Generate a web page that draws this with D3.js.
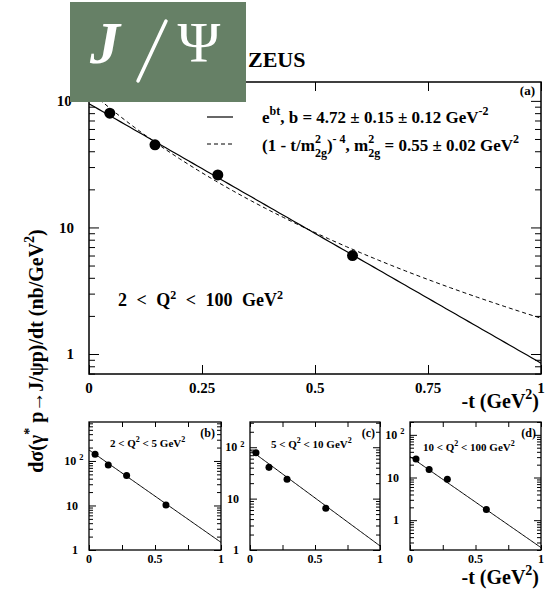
<!DOCTYPE html>
<html>
<head>
<meta charset="utf-8">
<script src="https://cdn.jsdelivr.net/npm/d3@7"></script>
<style>
body { margin: 0; background: #fff; }
svg { display: block; }
</style>
</head>
<body>
<svg id="chart"></svg>
<script>
// -t bin centres (GeV^2), shared by all panels
const tBins = [0.046, 0.146, 0.285, 0.583]

// (a) 2 < Q^2 < 100
const sigmaAll = [80, 45, 26, 6.0]
const errAll = [3, 2, 1.2, 0.3]
// (b) 2 < Q^2 < 5
const sigmaB = [141, 81, 47, 10.3]
const errB = [12, 10, 3, 0.8]
// (c) 5 < Q^2 < 10
const sigmaC = [78.5, 40.8, 23.8, 6.5]
const errC = [8, 6, 1.5, 0.6]
// (d) 10 < Q^2 < 100
const sigmaD = [27.2, 15.5, 9.1, 1.78]
const errD = [2.5, 2.5, 0.8, 0.2]

// fit parameters
const expFitAll = { norm: 95, b: 4.72 }
const dipoleFitAll = { norm: 121, m2: 0.55 }
const expNormBins = [177, 88.6, 30.9]
const expSlopeBins = [4.78, 4.3, 4.91]

const xTicksMain = [0, 0.25, 0.5, 0.75, 1]
const xLabelsMain = ["0", "0.25", "0.5", "0.75", "1"]
const xTicksSmall = [0, 0.25, 0.5, 0.75, 1]
const xLabelsSmall = ["0", "", "0.5", "", "1"]

const font = "'Liberation Serif', 'Times New Roman', serif"

const svg = d3.select("#chart")
	.attr("width", 546)
	.attr("height", 592)

let clipId = 0

// one framed panel with log y axis, ticks on all four sides
const drawPanel = (p) => {
	const x = d3.scaleLinear().domain([0, 1]).range([p.left, p.right])
	const y = d3.scaleLog().domain(p.yDomain).range([p.bottom, p.top])
	const g = svg.append("g")

	const [lo, hi] = p.yDomain
	const major = [], minor = []
	for (let e = Math.floor(Math.log10(lo)); e <= Math.ceil(Math.log10(hi)); e++) {
		for (let k = 1; k < 10; k++) {
			const v = k * Math.pow(10, e)
			if (v >= lo * 0.999 && v <= hi * 1.001) (k === 1 ? major : minor).push(v)
		}
	}

	const noDomain = (a) => a.select(".domain").remove()
	const tickStyle = (a) => a.selectAll("line").attr("stroke", "#000").attr("stroke-width", 1)

	g.append("g").attr("transform", `translate(${p.left},0)`)
		.call(d3.axisLeft(y).tickValues(major).tickSize(-p.majorLen).tickFormat(""))
		.call(noDomain).call(tickStyle)
	g.append("g").attr("transform", `translate(${p.left},0)`)
		.call(d3.axisLeft(y).tickValues(minor).tickSize(-p.minorLen).tickFormat(""))
		.call(noDomain).call(tickStyle)
	g.append("g").attr("transform", `translate(${p.right},0)`)
		.call(d3.axisRight(y).tickValues(major).tickSize(-p.majorLen).tickFormat(""))
		.call(noDomain).call(tickStyle)
	g.append("g").attr("transform", `translate(${p.right},0)`)
		.call(d3.axisRight(y).tickValues(minor).tickSize(-p.minorLen).tickFormat(""))
		.call(noDomain).call(tickStyle)
	g.append("g").attr("transform", `translate(0,${p.bottom})`)
		.call(d3.axisBottom(x).tickValues(p.xTicks).tickSize(-p.xTickLen).tickFormat(""))
		.call(noDomain).call(tickStyle)
	g.append("g").attr("transform", `translate(0,${p.top})`)
		.call(d3.axisTop(x).tickValues(p.xTicks).tickSize(-p.xTickLen).tickFormat(""))
		.call(noDomain).call(tickStyle)

	// frame
	g.append("rect")
		.attr("x", p.left).attr("y", p.top)
		.attr("width", p.right - p.left).attr("height", p.bottom - p.top)
		.style("fill", "none")
		.style("stroke", "#000")
		.style("stroke-width", p.frameWidth)

	// y labels (decades)
	major.forEach((v) => {
		const e = Math.round(Math.log10(v))
		const t = g.append("text")
			.attr("x", p.left - p.yLabelPad)
			.attr("y", y(v) + p.tickFont * 0.35)
			.attr("text-anchor", "end")
			.style("font-family", font)
			.style("font-weight", "bold")
			.style("font-size", p.tickFont + "px")
		if (e === 0) t.text("1")
		else if (e === 1) t.text("10")
		else {
			t.attr("x", p.left - p.yLabelPad + p.tickFont * 0.45)
			t.append("tspan").text("10 ")
			t.append("tspan").attr("dy", -p.tickFont * 0.4)
				.style("font-size", (p.tickFont * 0.7) + "px").text(e)
		}
	})

	// x labels
	p.xTicks.forEach((v, i) => {
		if (!p.xLabels[i]) return
		g.append("text")
			.attr("x", x(v))
			.attr("y", p.bottom + p.xLabelOff)
			.attr("text-anchor", "middle")
			.style("font-family", font)
			.style("font-weight", "bold")
			.style("font-size", p.tickFont + "px")
			.text(p.xLabels[i])
	})

	// clip for curves
	const id = "clip" + (clipId++)
	svg.append("clipPath").attr("id", id)
		.append("rect")
		.attr("x", p.left).attr("y", p.top)
		.attr("width", p.right - p.left).attr("height", p.bottom - p.top)

	const tGrid = d3.range(0, 1.0001, 0.01)
	const line = d3.line().x((d) => x(d[0])).y((d) => y(d[1]))
	p.curves.forEach((c) => {
		g.append("path")
			.attr("clip-path", `url(#${id})`)
			.attr("d", line(tGrid.map((t) => [t, c.f(t)])))
			.style("fill", "none")
			.style("stroke", "#000")
			.style("stroke-width", c.width || 1)
			.style("stroke-dasharray", c.dash || null)
	})

	// points with error bars
	const pts = tBins.map((t, i) => ({ t, v: p.values[i], e: p.errors[i] }))
	g.selectAll(".err").data(pts).enter()
		.append("line")
		.attr("x1", (d) => x(d.t)).attr("x2", (d) => x(d.t))
		.attr("y1", (d) => y(d.v - d.e)).attr("y2", (d) => y(d.v + d.e))
		.style("stroke", "#000")
		.style("stroke-width", 1.2)
	g.selectAll(".pt").data(pts).enter()
		.append("circle")
		.attr("cx", (d) => x(d.t))
		.attr("cy", (d) => y(d.v))
		.attr("r", p.markerR)
		.style("fill", "#000")

	return { x, y }
}

// panel (a)
drawPanel({
	left: 89, right: 541, top: 82, bottom: 374,
	yDomain: [0.695, 141],
	majorLen: 10, minorLen: 6, xTickLen: 9, frameWidth: 1.5,
	xTicks: xTicksMain, xLabels: xLabelsMain,
	tickFont: 15, yLabelPad: 15, xLabelOff: 19,
	values: sigmaAll, errors: errAll, markerR: 5.5,
	curves: [
		{ f: (t) => expFitAll.norm * Math.exp(-expFitAll.b * t), width: 1.2 },
		{ f: (t) => dipoleFitAll.norm * Math.pow(1 + t / dipoleFitAll.m2, -4), dash: "4,3", width: 1 }
	]
})

// panels (b), (c), (d)
const smallPanels = [
	{ left: 89, right: 221, yDomain: [1, 750], values: sigmaB, errors: errB },
	{ left: 250, right: 380, yDomain: [1, 310], values: sigmaC, errors: errC },
	{ left: 410, right: 541, yDomain: [0.2, 200], values: sigmaD, errors: errD }
]
smallPanels.forEach((sp, i) => {
	drawPanel({
		left: sp.left, right: sp.right, top: 422, bottom: 550,
		yDomain: sp.yDomain,
		majorLen: 7, minorLen: 4, xTickLen: 5, frameWidth: 1.3,
		xTicks: xTicksSmall, xLabels: xLabelsSmall,
		tickFont: 12, yLabelPad: 11, xLabelOff: 13,
		values: sp.values, errors: sp.errors, markerR: 3.5,
		curves: [{ f: (t) => expNormBins[i] * Math.exp(-expSlopeBins[i] * t), width: 1 }]
	})
})

// generic bold text helper
const label = (x, y, size, anchor) => svg.append("text")
	.attr("x", x).attr("y", y)
	.attr("text-anchor", anchor || "start")
	.style("font-family", font)
	.style("font-weight", "bold")
	.style("font-size", size + "px")

const sup = (t, s, size, dy) => t.append("tspan").attr("dy", -dy).style("font-size", size + "px").text(s)
const back = (t, s, dy) => t.append("tspan").attr("dy", dy).text(s)

// panel tags
label(535, 95, 13, "end").text("(a)")
label(215, 437, 12, "end").text("(b)")
label(375, 437, 12, "end").text("(c)")
label(536, 437, 12, "end").text("(d)")

// bin labels
{
	const t = label(118, 306, 18).style("word-spacing", "5px")
	t.append("tspan").text("2 < Q")
	sup(t, "2", 12, 7)
	back(t, " < 100 GeV", 7)
	sup(t, "2", 12, 7)
}
const binText = [["2 < Q", " < 5 GeV", 110, 447], ["5 < Q", " < 10 GeV", 271, 448], ["10 < Q", " < 100 GeV", 423, 451]]
binText.forEach(([a, b, x, y]) => {
	const t = label(x, y, 11)
	t.append("tspan").text(a)
	sup(t, "2", 8, 5)
	back(t, b, 5)
	sup(t, "2", 8, 5)
})

// legend
svg.append("line").attr("x1", 207).attr("x2", 233).attr("y1", 117).attr("y2", 117)
	.style("stroke", "#000").style("stroke-width", 1.2)
svg.append("line").attr("x1", 207).attr("x2", 233).attr("y1", 144).attr("y2", 144)
	.style("stroke", "#000").style("stroke-width", 1).style("stroke-dasharray", "4,3")
{
	const t = label(262, 123, 17)
	t.append("tspan").text("e")
	sup(t, "bt", 12, 8)
	back(t, ", b = 4.72 ± 0.15 ± 0.12 GeV", 8)
	sup(t, "-2", 12, 8)
}
{
	// m^2 with 2g stacked underneath
	const t = label(262, 151, 17)
	t.append("tspan").text("(1 - t/m")
	sup(t, "2", 12, 8)
	t.append("tspan").attr("dx", -6).attr("dy", 14).style("font-size", "12px").text("2g")
	back(t, ")", -6)
	sup(t, "- 4", 12, 8)
	back(t, ", m", 8)
	sup(t, "2", 12, 8)
	t.append("tspan").attr("dx", -6).attr("dy", 14).style("font-size", "12px").text("2g")
	back(t, " = 0.55 ± 0.02 GeV", -6)
	sup(t, "2", 12, 8)
}

// x axis titles
const xTitle = (xEnd, y) => {
	const t = label(xEnd, y, 20, "end")
	t.append("tspan").text("-t (GeV")
	sup(t, "2", 14, 9)
	back(t, ")", 9)
}
xTitle(539, 408)
xTitle(539, 584)

// y axis title
{
	const t = svg.append("text")
		.attr("transform", "translate(43,351) rotate(-90)")
		.attr("text-anchor", "middle")
		.style("font-family", font)
		.style("font-weight", "bold")
		.style("font-size", "20px")
	t.append("tspan").text("dσ(γ")
	sup(t, "*", 14, 9)
	back(t, " p→J/ψp)/dt (nb/GeV", 9)
	sup(t, "2", 14, 9)
	back(t, ")", 9)
}

// experiment name
label(248, 67, 22).text("ZEUS")

// J/Psi badge
svg.append("rect")
	.attr("x", 70).attr("y", 2)
	.attr("width", 176).attr("height", 100)
	.style("fill", "#668066")
svg.append("text")
	.attr("x", 90).attr("y", 63)
	.style("font-family", font)
	.style("font-style", "italic")
	.style("font-weight", "bold")
	.style("font-size", "60px")
	.style("fill", "#fff")
	.text("J")
svg.append("line")
	.attr("x1", 138).attr("y1", 81)
	.attr("x2", 166).attr("y2", 21)
	.style("stroke", "#fff")
	.style("stroke-width", 3.5)
	.style("stroke-linecap", "round")
svg.append("text")
	.attr("x", 199).attr("y", 62)
	.attr("text-anchor", "middle")
	.style("font-family", font)
	.style("font-size", "58px")
	.style("fill", "#fff")
	.text("Ψ")
</script>
</body>
</html>
